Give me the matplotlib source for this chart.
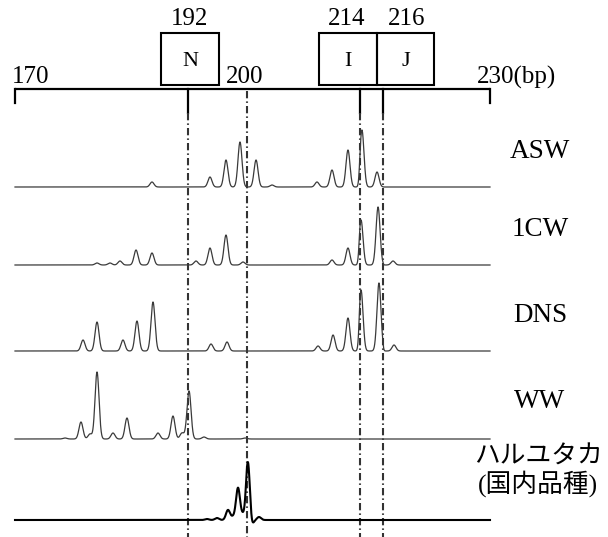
import numpy as np
import matplotlib.pyplot as plt
from matplotlib.patches import Rectangle

plt.rcParams['font.family'] = ['Liberation Serif', 'Noto Sans CJK JP']

# size markers (bp) with their boxes and guide lines
marker_bp = [192, 214, 216]
marker_names = ['N', 'I', 'J']
scale_labels = ['170', '200', '230(bp)']

samples = ['ASW', '1CW', 'DNS', 'WW', 'ハルユタカ\n(国内品種)']

# peak positions (bp) and peak heights
asw_pos = [187.42, 194.98, 197.15, 199.05, 201.12, 203.10, 208.67, 210.53, 212.51, 214.17, 215.48]
asw_h = [5, 10, 27, 45, 27, 2, 5, 17, 37, 57, 15]

cw_pos = [180.43, 182.08, 183.35, 185.39, 187.42, 193.08, 194.98, 197.15, 199.46,
          210.53, 212.51, 214.09, 215.57, 217.31]
cw_h = [2, 2, 4, 15, 12, 4, 17, 30, 3, 5, 17, 45, 58, 4]

dns_pos = [178.65, 180.43, 183.73, 185.51, 187.55, 195.12, 197.29, 208.80, 210.66,
           212.51, 214.09, 215.65, 217.44]
dns_h = [11, 29, 11, 30, 49, 7, 9, 5, 16, 33, 61, 68, 6]

ww_pos = [176.36, 178.39, 179.54, 180.43, 182.46, 184.24, 188.18, 190.09, 191.24, 192.14, 194.17, 199.73]
ww_h = [1, 17, 5, 67, 6, 21, 6, 23, 6, 48, 2, 1]

haru_pos = [194.58, 195.93, 197.42, 198.10, 198.78, 199.46, 200.12, 200.50, 201.49]
haru_h = [1, 2, 10, 3, 32, 5, 60, -8, 3]

peaks = [(asw_pos, asw_h), (cw_pos, cw_h), (dns_pos, dns_h), (ww_pos, ww_h), (haru_pos, haru_h)]

# the drawn size scale is not quite linear: bp -> pixel column
cal_bp = [168.09, 170, 192, 200, 214, 216, 230, 245.44]
cal_px = [0, 15, 188, 247, 360, 383, 490, 608]

# layout (pixel rows)
baselines = [187, 265, 351, 439, 520]
label_y = [152, 229, 316, 401, 472]


def fwd(b):
    return np.interp(b, cal_bp, cal_px)


def inv(p):
    return np.interp(p, cal_px, cal_bp)


fig = plt.figure(figsize=(6.08, 5.37), dpi=100)
ax = fig.add_axes([0, 0, 1, 1])
ax.set_xscale('function', functions=(fwd, inv))
ax.set_xlim(cal_bp[0], cal_bp[-1])
ax.set_ylim(537, 0)
ax.axis('off')

dark = '#333333'
dd = (3.5, 1.5, 0.7, 1.5)

# scale bar
ax.plot([170, 230], [89, 89], color='k', lw=1.6, solid_capstyle='butt')
ax.plot([170, 170], [89, 103], color='k', lw=1.6)
ax.plot([230, 230], [89, 103], color='k', lw=1.6)
ax.text(inv(12), 77, scale_labels[0], fontsize=18, ha='left', va='center')
ax.text(inv(245), 77, scale_labels[1], fontsize=18, ha='center', va='center')
ax.text(inv(477), 77, scale_labels[2], fontsize=18, ha='left', va='center')

# guide lines
for b in marker_bp:
    ax.plot([b, b], [89, 113], color='k', lw=1.6)
    ax.plot([b, b], [113, 537], color=dark, lw=1.5, dashes=dd)
ax.plot([200, 200], [91, 537], color=dark, lw=1.5, dashes=dd)

# marker boxes
boxes = [(161, 219), (319, 377), (377, 434)]
num_x = [190, 347, 407]
for (x0, x1), name, b, nx in zip(boxes, marker_names, marker_bp, num_x):
    ax.add_patch(Rectangle((inv(x0), 33), inv(x1) - inv(x0), 52, fill=False, ec='k', lw=1.5))
    ax.text(inv((x0 + x1) / 2), 61, name, fontsize=16, ha='center', va='center')
    ax.text(inv(nx), 19, str(b), fontsize=18, ha='center', va='center')

# traces (peak width kept about 2 px on screen)
x = np.linspace(170, 230, 6000)
for i, (pos, h) in enumerate(peaks):
    y = np.zeros_like(x)
    for p, hh in zip(pos, h):
        slope = (fwd(p + 0.01) - fwd(p - 0.01)) / 0.02
        s = 2.0 / slope
        y += hh * np.exp(-(x - p) ** 2 / (2 * s ** 2))
    if i == 4:
        ax.plot(x, baselines[i] - y, color='k', lw=1.5)
    else:
        ax.plot(x, baselines[i] - y, color='#3a3a3a', lw=0.9)

for name, ly in zip(samples, label_y):
    if '\n' in name:
        ax.text(inv(538), ly, name, fontsize=18.5, ha='center', va='center', linespacing=1.05)
    else:
        ax.text(inv(540), ly, name, fontsize=19.5, ha='center', va='center')

fig.savefig('out.png', dpi=100)
